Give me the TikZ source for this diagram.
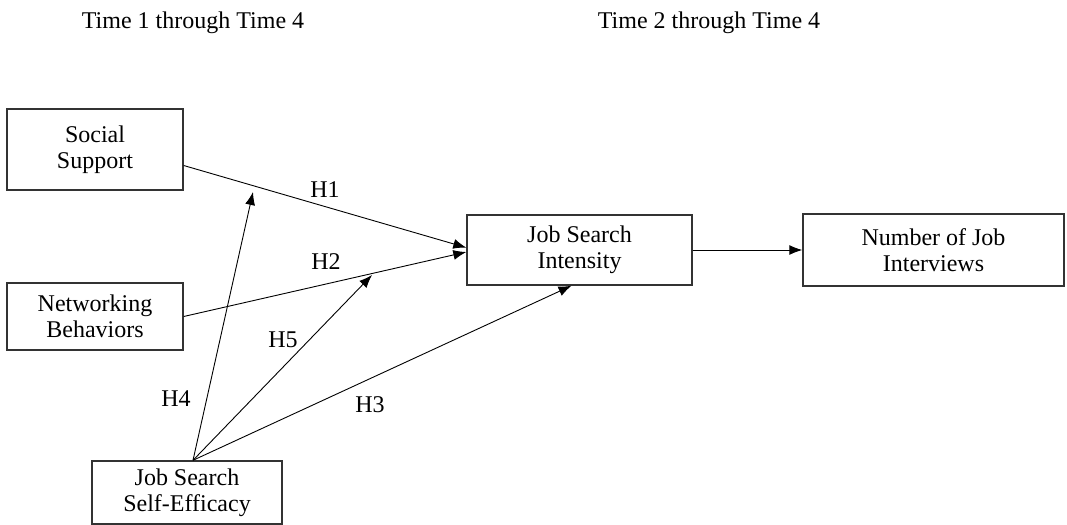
\documentclass[tikz,border=0pt]{standalone}
\usepackage{fontspec}
\setmainfont{Liberation Serif}
\usepackage{tikz}
\usetikzlibrary{arrows.meta}

\begin{document}
\begin{tikzpicture}[x=0.5pt, y=-0.5pt,
									box/.style = {rectangle, draw=black!80, line width=0.7pt, align=center, inner sep=0pt, font=\fontsize{12}{13}\selectfont},
									link/.style = {-{Latex[length=6.5pt,width=5pt]}, line width=0.45pt, draw=black},
									hyp/.style = {inner sep=0pt, font=\fontsize{12}{13}\selectfont}]
					\useasboundingbox (0,0) rectangle (1067,525);
					\node[hyp, anchor=base] (t1) at (193,28) {Time 1 through Time 4};
					\node[hyp, anchor=base] (t2) at (709,28) {Time 2 through Time 4};
					
					\node[box, minimum width=88pt, minimum height=40.5pt] (ss) at (95,149.5) {Social\\Support};
					\node[box, minimum width=88pt, minimum height=33.5pt] (nb) at (95,316.5) {Networking\\Behaviors};
					\node[box, minimum width=95pt, minimum height=31.5pt] (se) at (187,492.5) {Job Search\\Self-Efficacy};
					\node[box, minimum width=112.5pt, minimum height=35pt] (jsi) at (579.5,250) {Job Search\\Intensity};
					\node[box, minimum width=130.5pt, minimum height=36pt] (nji) at (933.5,250) {Number of Job\\Interviews};
					
					\coordinate (h4end) at (253,192);
					\coordinate (h5end) at (372,275);
					
					\draw[link] ([yshift=-8pt]ss.east) to ([yshift=1.2pt]jsi.west);
					\draw[link] (nb.east) to ([yshift=-1pt]jsi.west);
					\draw[link] (jsi.east) to (nji.west);
					
					\draw[link] ([xshift=3pt]se.north) to (h4end);
					\draw[link] ([xshift=3pt]se.north) to (h5end);
					\draw[link] ([xshift=3pt]se.north) to ([xshift=-4pt]jsi.south);
					
					\node[hyp] (h1) at (325,190) {H1};
					\node[hyp] (h2) at (326,262) {H2};
					\node[hyp] (h3) at (370,405) {H3};
					\node[hyp] (h4) at (176,399) {H4};
					\node[hyp] (h5) at (283,340) {H5};
				\end{tikzpicture}
\end{document}
